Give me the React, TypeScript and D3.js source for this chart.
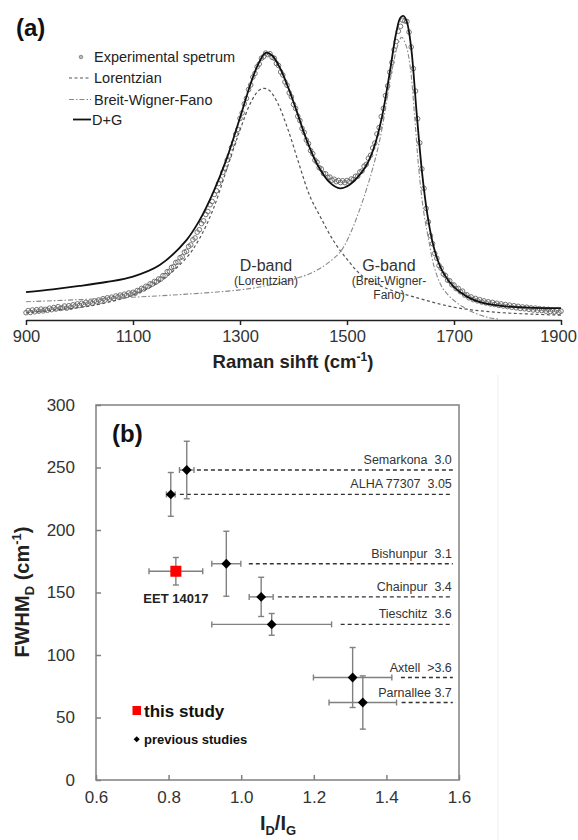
import React, { useEffect, useRef } from 'react'
import * as d3 from 'd3'

// ---------- panel (a): Raman spectrum (relative intensity, G peak = 100)
const specStart = 900
const specStep = 4
const spectrum = [
  2.4, 3.1, 2.5, 3.3, 2.7, 3.4, 2.9, 3.6, 3.0, 3.5,
  3.2, 3.9, 3.4, 4.1, 3.6, 4.4, 3.8, 4.0, 4.6, 3.9,
  4.7, 4.2, 5.0, 4.6, 5.3, 4.8, 5.5, 5.1, 5.8, 5.3,
  5.9, 5.5, 6.3, 6.0, 6.6, 6.2, 7.0, 6.6, 7.3, 6.9,
  7.5, 7.1, 7.9, 7.6, 8.2, 7.8, 8.5, 8.1, 8.9, 8.5,
  9.1, 8.8, 9.7, 9.6, 10.4, 10.2, 11.1, 11.0, 11.9, 11.8,
  12.7, 12.6, 13.5, 13.5, 14.6, 14.6, 15.9, 16.0, 17.3, 17.5,
  18.9, 19.1, 20.5, 20.8, 22.3, 22.6, 24.2, 24.7, 26.4, 27.0,
  28.9, 29.7, 31.7, 32.6, 34.7, 35.7, 37.9, 39.0, 41.3, 42.5,
  44.9, 46.1, 48.6, 50.0, 52.6, 54.0, 56.7, 58.3, 61.1, 62.7,
  66.3, 68.1, 71.1, 72.9, 75.8, 77.3, 79.9, 81.1, 83.3, 84.2,
  86.1, 86.6, 87.8, 87.3, 87.6, 86.4, 86.1, 84.4, 83.7, 81.6,
  80.6, 78.3, 77.2, 74.7, 73.4, 70.9, 69.6, 67.0, 65.6, 63.0,
  61.7, 59.2, 58.0, 55.7, 54.7, 52.6, 51.9, 50.1, 49.7, 48.2,
  48.1, 46.9, 47.0, 46.0, 46.3, 45.5, 45.9, 45.2, 45.8, 45.2,
  45.9, 45.5, 46.4, 46.2, 47.3, 47.3, 48.7, 49.0, 50.6, 51.2,
  53.2, 54.2, 56.6, 58.2, 61.2, 63.3, 66.9, 69.6, 73.8, 77.0,
  81.5, 84.7, 88.9, 91.6, 95.0, 96.6, 98.6, 98.4, 98.2, 94.7,
  89.8, 82.7, 75.3, 66.2, 58.3, 49.7, 43.3, 36.7, 32.3, 27.7,
  25.1, 21.9, 20.3, 17.9, 17.0, 15.1, 14.6, 13.1, 12.9, 11.6,
  11.5, 10.3, 10.4, 9.3, 9.5, 8.2, 8.3, 7.3, 7.6, 6.7,
  7.1, 6.3, 6.7, 5.9, 6.3, 5.6, 6.0, 5.3, 5.8, 5.1,
  5.5, 4.8, 5.3, 4.6, 5.1, 4.4, 4.9, 4.2, 4.7, 4.0,
  4.5, 3.8, 4.3, 3.7, 4.2, 3.5, 4.0, 3.3, 3.9, 3.2,
  3.7, 3.1, 3.6, 2.9, 3.5, 2.8, 3.3, 2.7, 3.2, 2.5,
  2.9,
]

const lorentzian: [number, number][] = [
  [900, 2.3], [950, 3.2], [1000, 4.1], [1050, 5.7], [1100, 8.2], [1150, 12.6],
  [1200, 20.5], [1225, 27], [1250, 36.5], [1275, 49.5], [1300, 62.5], [1320, 71.5],
  [1335, 75.5], [1345, 76.2], [1355, 75.5], [1370, 71.5], [1390, 62.5], [1410, 51.5],
  [1430, 41], [1450, 34], [1475, 26], [1500, 20], [1530, 14.3], [1575, 10.3],
  [1625, 7.6], [1700, 4.2], [1775, 2.6], [1850, 1.9], [1900, 1.6],
]

const bwf: [number, number][] = [
  [900, 6.0], [1000, 6.7], [1100, 7.5], [1200, 8.5], [1300, 9.9], [1350, 11.3],
  [1400, 13.4], [1440, 16.0], [1470, 19.5], [1490, 23.0], [1510, 30.0], [1525, 37.0],
  [1540, 45.0], [1555, 54.5], [1565, 62.5], [1575, 73.0], [1585, 83.0], [1595, 90.5],
  [1602, 93.0], [1610, 90.5], [1618, 83.5], [1626, 68.0], [1634, 50.0], [1643, 36.0],
  [1652, 27.0], [1663, 17.5], [1678, 10.7], [1695, 7.2], [1715, 4.5], [1740, 2.2],
  [1765, 0.8], [1785, 0.3],
]

const fitSum: [number, number][] = [
  [900, 9.2], [950, 10.1], [1000, 11.2], [1050, 12.5], [1100, 14.3], [1150, 18.1],
  [1200, 26.3], [1225, 33], [1250, 42], [1275, 53], [1300, 66.5], [1320, 77.8],
  [1335, 84.5], [1348, 87.9], [1360, 87.0], [1375, 82.8], [1390, 76.5], [1405, 69.2],
  [1425, 59.0], [1445, 51.0], [1468, 45.2], [1487, 43.3], [1505, 44.5], [1520, 47.0],
  [1535, 50.5], [1550, 56.5], [1565, 66.5], [1580, 81.5], [1592, 94.5], [1600, 99.5],
  [1606, 100], [1612, 98.0], [1620, 89.5], [1630, 68.5], [1640, 49], [1650, 35],
  [1660, 25.5], [1670, 19.5], [1680, 15.5], [1700, 10.8], [1725, 7.6], [1750, 5.8],
  [1800, 4.4], [1850, 4.0], [1900, 3.9],
]

const shiftTicks = [900, 1100, 1300, 1500, 1700, 1900]
const legendA = ['Experimental spetrum', 'Lorentzian', 'Breit-Wigner-Fano', 'D+G']

// ---------- panel (b): FWHM-D vs ID/IG
const thisRatio = [0.82]
const thisFwhm = [167]
const thisRatioErr = [0.074]
const thisFwhmErr = [11]

const prevLabels = ['Semarkona  3.0', 'ALHA 77307  3.05', 'Bishunpur  3.1', 'Chainpur  3.4', 'Tieschitz  3.6', 'Axtell  >3.6', 'Parnallee 3.7']
const prevRatio = [0.85, 0.806, 0.959, 1.055, 1.084, 1.307, 1.335]
const prevFwhm = [248, 228.5, 173, 146.5, 124.5, 82, 62]
const prevRatioErr = [0.02, 0.012, 0.04, 0.033, 0.165, 0.108, 0.093]
const prevFwhmErr = [23, 17.5, 26, 15.7, 8.7, 24, 21.3]
const leaderStart = [0.878, 0.831, 1.021, 1.101, 1.274, 1.44, 1.442]
const leaderEnd = 1.583

const ratioTicks = [0.6, 0.8, 1.0, 1.2, 1.4, 1.6]
const fwhmTicks = [0, 50, 100, 150, 200, 250, 300]

const FONT = '"Liberation Sans", Arial, sans-serif'

export default function App() {
  const ref = useRef<SVGSVGElement>(null)

  useEffect(() => {
    const svg = d3.select(ref.current)
    svg.selectAll('*').remove()
    svg.attr('font-family', FONT)
    svg.append('rect').attr('width', 578).attr('height', 840).attr('fill', '#fff')

    // ===== panel (a)
    const xA = d3.scaleLinear().domain([900, 1900]).range([26, 561])
    const yA = d3.scaleLinear().domain([0, 100]).range([320, 16])
    const line = d3.line<[number, number]>()
      .x(d => xA(d[0]))
      .y(d => yA(d[1]))
      .curve(d3.curveCatmullRom.alpha(0.5))

    const pts = spectrum.map((v, i) => [specStart + i * specStep, v])
    svg.append('g').selectAll('circle')
      .data(pts)
      .enter()
      .append('circle')
      .attr('cx', d => xA(d[0]))
      .attr('cy', d => yA(d[1]))
      .attr('r', 2.3)
      .attr('fill', 'none')
      .attr('stroke', '#666')
      .attr('stroke-width', 0.9)

    svg.append('path').datum(lorentzian)
      .attr('d', line).attr('fill', 'none')
      .attr('stroke', '#555').attr('stroke-width', 1.2).attr('stroke-dasharray', '3,2.5')
    svg.append('path').datum(bwf)
      .attr('d', line).attr('fill', 'none')
      .attr('stroke', '#888').attr('stroke-width', 1.1).attr('stroke-dasharray', '5,2,1.5,2')
    svg.append('path').datum(fitSum)
      .attr('d', line).attr('fill', 'none')
      .attr('stroke', '#111').attr('stroke-width', 1.8)

    const axA = d3.axisBottom(xA).tickValues(shiftTicks).tickSizeInner(5).tickSizeOuter(0)
      .tickPadding(5).tickFormat(d3.format('d'))
    const gAx = svg.append('g').attr('transform', 'translate(0,320)').call(axA)
    gAx.attr('font-family', FONT).attr('font-size', 16.5)
    gAx.select('.domain').attr('stroke', '#222').attr('stroke-width', 1.5)
    gAx.selectAll('.tick line').attr('stroke', '#222').attr('stroke-width', 1.5)
    gAx.selectAll('.tick text').attr('fill', '#333')
      .attr('dx', (d: any) => (d === 1900 ? -3 : 0))

    const xLabA = svg.append('text').attr('x', 293).attr('y', 368)
      .attr('text-anchor', 'middle').attr('font-size', 18.5).attr('font-weight', 'bold').attr('fill', '#222')
    xLabA.append('tspan').text('Raman sihft (cm')
    xLabA.append('tspan').attr('font-size', 12).attr('dy', -7).text('-1')
    xLabA.append('tspan').attr('dy', 7).text(')')

    svg.append('text').attr('x', 16).attr('y', 36).attr('font-size', 24)
      .attr('font-weight', 'bold').attr('fill', '#111').text('(a)')

    // legend (a)
    const legY = [57, 78, 99.5, 119.5]
    const gLeg = svg.append('g')
    gLeg.append('circle').attr('cx', 81).attr('cy', legY[0]).attr('r', 1.8)
      .attr('fill', '#bbb').attr('stroke', '#777').attr('stroke-width', 0.8)
    gLeg.append('line').attr('x1', 69).attr('x2', 91).attr('y1', legY[1]).attr('y2', legY[1])
      .attr('stroke', '#555').attr('stroke-width', 1.2).attr('stroke-dasharray', '3,2.5')
    gLeg.append('line').attr('x1', 69).attr('x2', 91).attr('y1', legY[2]).attr('y2', legY[2])
      .attr('stroke', '#888').attr('stroke-width', 1.1).attr('stroke-dasharray', '5,2,1.5,2')
    gLeg.append('line').attr('x1', 73).attr('x2', 91).attr('y1', legY[3]).attr('y2', legY[3])
      .attr('stroke', '#111').attr('stroke-width', 1.8)
    gLeg.selectAll('text.leg')
      .data(legendA)
      .enter()
      .append('text')
      .attr('x', (d, i) => (i === 3 ? 92 : 94))
      .attr('y', (d, i) => legY[i] + 5)
      .attr('font-size', 14.5)
      .attr('fill', '#222')
      .text(d => d)

    // band annotations
    const note = (x: number, y: number, size: number, t: string) =>
      svg.append('text').attr('x', x).attr('y', y).attr('text-anchor', 'middle')
        .attr('font-size', size).attr('fill', '#333').text(t)
    note(266, 271, 16, 'D-band')
    note(266, 285, 12, '(Lorentzian)')
    note(389, 271, 16, 'G-band')
    note(389, 285, 12, '(Breit-Wigner-')
    note(389, 299, 12, 'Fano)')

    // ===== panel (b)
    svg.append('line').attr('x1', 498).attr('x2', 498).attr('y1', 375).attr('y2', 840)
      .attr('stroke', '#eeeeee').attr('stroke-width', 1)

    const xB = d3.scaleLinear().domain([0.6, 1.6]).range([96, 459])
    const yB = d3.scaleLinear().domain([0, 300]).range([780, 405])

    const axL = d3.axisLeft(yB).tickValues(fwhmTicks).tickSizeInner(-5).tickSizeOuter(0).tickPadding(21)
    const gL = svg.append('g').attr('transform', 'translate(96,0)').call(axL)
    const axB = d3.axisBottom(xB).tickValues(ratioTicks).tickSizeInner(-5).tickSizeOuter(0)
      .tickPadding(11).tickFormat(d3.format('.1f'))
    const gB = svg.append('g').attr('transform', 'translate(0,780)').call(axB)
    for (const g of [gL, gB]) {
      g.attr('font-family', FONT).attr('font-size', 17)
      g.select('.domain').remove()
      g.selectAll('.tick line').attr('stroke', '#808080').attr('stroke-width', 1.5)
      g.selectAll('.tick text').attr('fill', '#333')
    }
    svg.append('rect').attr('x', 96).attr('y', 405).attr('width', 363).attr('height', 375)
      .attr('fill', 'none').attr('stroke', '#808080').attr('stroke-width', 1.5)

    svg.append('text').attr('x', 112).attr('y', 442).attr('font-size', 24)
      .attr('font-weight', 'bold').attr('fill', '#111').text('(b)')

    // dashed leaders and labels
    const prevIdx = prevRatio.map((d, i) => i)
    svg.append('g').selectAll('line')
      .data(prevIdx)
      .enter()
      .append('line')
      .attr('x1', i => xB(leaderStart[i]))
      .attr('x2', xB(leaderEnd))
      .attr('y1', i => yB(prevFwhm[i]))
      .attr('y2', i => yB(prevFwhm[i]))
      .attr('stroke', '#333')
      .attr('stroke-width', 1.3)
      .attr('stroke-dasharray', '4,3')
    svg.append('g').selectAll('text')
      .data(prevIdx)
      .enter()
      .append('text')
      .attr('x', xB(leaderEnd) - 1)
      .attr('y', i => yB(prevFwhm[i]) - 6)
      .attr('text-anchor', 'end')
      .attr('font-size', 12.5)
      .attr('fill', '#333')
      .style('white-space', 'pre')
      .text(i => prevLabels[i])

    // error bars
    const errColor = '#808080'
    const cap = 3
    const drawErr = (g: any, xs: number[], ys: number[], xe: number[], ye: number[]) => {
      xs.forEach((xv, i) => {
        const cx = xB(xv), cy = yB(ys[i])
        const x0 = xB(xv - xe[i]), x1 = xB(xv + xe[i])
        const y0 = yB(ys[i] - ye[i]), y1 = yB(ys[i] + ye[i])
        const segs = [
          [x0, cy, x1, cy], [x0, cy - cap, x0, cy + cap], [x1, cy - cap, x1, cy + cap],
          [cx, y0, cx, y1], [cx - cap, y0, cx + cap, y0], [cx - cap, y1, cx + cap, y1],
        ]
        segs.forEach(s => {
          g.append('line').attr('x1', s[0]).attr('y1', s[1]).attr('x2', s[2]).attr('y2', s[3])
            .attr('stroke', errColor).attr('stroke-width', 1.4)
        })
      })
    }
    const gErr = svg.append('g')
    drawErr(gErr, prevRatio, prevFwhm, prevRatioErr, prevFwhmErr)
    drawErr(gErr, thisRatio, thisFwhm, thisRatioErr, thisFwhmErr)

    const diamond = d3.symbol().type(d3.symbolDiamond2).size(62)
    svg.append('g').selectAll('path')
      .data(prevIdx)
      .enter()
      .append('path')
      .attr('d', diamond)
      .attr('transform', i => `translate(${xB(prevRatio[i])},${yB(prevFwhm[i])})`)
      .attr('fill', '#000')

    svg.append('g').selectAll('rect')
      .data(thisRatio)
      .enter()
      .append('rect')
      .attr('x', (d, i) => xB(d) - 5.5)
      .attr('y', (d, i) => yB(thisFwhm[i]) - 5.5)
      .attr('width', 11)
      .attr('height', 11)
      .attr('fill', '#ff0000')

    svg.append('text').attr('x', xB(thisRatio[0])).attr('y', 603).attr('text-anchor', 'middle')
      .attr('font-size', 13).attr('font-weight', 'bold').attr('fill', '#222').text('EET 14017')

    // legend (b)
    svg.append('rect').attr('x', 132.5).attr('y', 706).attr('width', 8.5).attr('height', 9).attr('fill', '#ff0000')
    svg.append('text').attr('x', 144).attr('y', 717).attr('font-size', 17).attr('font-weight', 'bold')
      .attr('fill', '#111').text('this study')
    svg.append('path').attr('d', d3.symbol().type(d3.symbolDiamond2).size(24)())
      .attr('transform', 'translate(136.7,739.3)').attr('fill', '#000')
    svg.append('text').attr('x', 144).attr('y', 744).attr('font-size', 13).attr('font-weight', 'bold')
      .attr('fill', '#111').text('previous studies')

    // axis titles (b)
    const yLab = svg.append('text').attr('transform', 'translate(29,592) rotate(-90)')
      .attr('text-anchor', 'middle').attr('font-size', 20).attr('font-weight', 'bold').attr('fill', '#222')
    yLab.append('tspan').text('FWHM')
    yLab.append('tspan').attr('font-size', 13).attr('dy', 5).text('D')
    yLab.append('tspan').attr('dy', -5).text(' (cm')
    yLab.append('tspan').attr('font-size', 13).attr('dy', -8).text('-1')
    yLab.append('tspan').attr('dy', 8).text(')')

    const xLab = svg.append('text').attr('x', 278).attr('y', 830)
      .attr('text-anchor', 'middle').attr('font-size', 20).attr('font-weight', 'bold').attr('fill', '#222')
    xLab.append('tspan').text('I')
    xLab.append('tspan').attr('font-size', 13).attr('dy', 5).text('D')
    xLab.append('tspan').attr('dy', -5).text('/I')
    xLab.append('tspan').attr('font-size', 13).attr('dy', 5).text('G')
  }, [])

  return (
    <div>
      <style>{`body { margin: 0; } svg { display: block; }`}</style>
      <svg ref={ref} width={578} height={840}></svg>
    </div>
  )
}
